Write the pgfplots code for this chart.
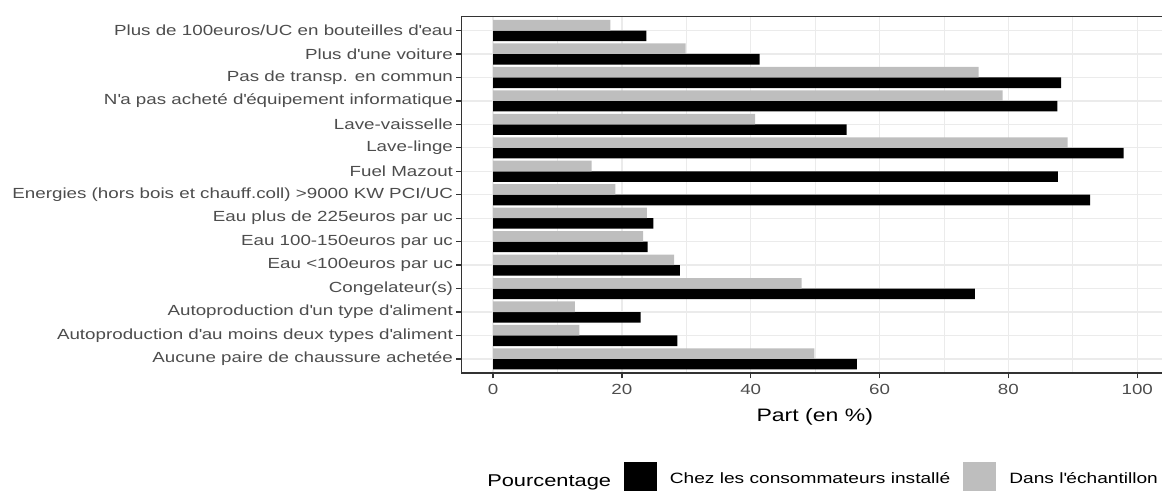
\documentclass[border=0pt]{standalone}
\usepackage{pgfplots}
\pgfplotsset{compat=1.18}
\usepackage{pgfplotstable}
\usepackage{fontspec}
\setmainfont{Liberation Sans}[FakeStretch=1.28]
\definecolor{grey20}{HTML}{333333}
\definecolor{grey30}{HTML}{4D4D4D}
\definecolor{grey92}{HTML}{EBEBEB}
\definecolor{barGrey}{HTML}{BEBEBE}

% y: 1 = bottom category ... 15 = top category
\pgfplotstableread{
y installe echantillon
1  56.5 49.9
2  28.6 13.4
3  22.9 12.7
4  74.8 47.9
5  29.0 28.1
6  24.0 23.3
7  24.9 23.9
8  92.7 19.0
9  87.7 15.3
10 97.9 89.2
11 54.9 40.7
12 87.6 79.1
13 88.2 75.4
14 41.4 29.9
15 23.8 18.2
}\datatable

\pgfplotsset{keyrect/.style={legend image code/.code={\fill[##1] (0pt,-11.375pt) rectangle (24.75pt,13.375pt);}}}

\begin{document}
\begin{tikzpicture}
\begin{axis}[
  at={(346.1pt,87.75pt)}, anchor=south west,
  scale only axis, width=530pt, height=267.4pt,
  xmin=-4.895, xmax=104.8, ymin=0.4, ymax=15.6,
  enlargelimits=false,
  xtick={0,20,...,100}, minor xtick={10,30,50,70,90},
  ytick={1,...,15},
  yticklabels={
    Aucune paire de chaussure achetée,
    Autoproduction d\textquotesingle au moins deux types d\textquotesingle aliment,
    Autoproduction d\textquotesingle un type d\textquotesingle aliment,
    Congelateur(s),
    Eau <100euros par uc,
    Eau 100-150euros par uc,
    Eau plus de 225euros par uc,
    Energies (hors bois et chauff.coll) >9000 KW PCI/UC,
    Fuel Mazout,
    Lave-linge,
    Lave-vaisselle,
    N\textquotesingle a pas acheté d\textquotesingle équipement informatique,
    Pas de transp. en commun,
    Plus d\textquotesingle une voiture,
    Plus de 100euros/UC en bouteilles d\textquotesingle eau},
  xmajorgrids, ymajorgrids, xminorgrids,
  major grid style={grey92, line width=1pt},
  minor grid style={grey92, line width=0.5pt},
  axis line style={grey20, line width=1pt},
  tick pos=left, tick align=outside,
  major tick length=4pt, minor tick length=0pt,
  major tick style={grey20, line width=1pt},
  minor tick style={draw=none},
  ticklabel style={font=\fontsize{11pt}{13pt}\selectfont, text=grey30},
  /pgf/number format/assume math mode=true,
  xticklabel style={anchor=base, inner sep=0pt, yshift=-12.4pt},
  yticklabel style={anchor=east, inner sep=0pt, xshift=-2.2pt},
  xlabel={Part (en \%)},
  xlabel style={font=\fontsize{13.5pt}{16pt}\selectfont, inner sep=0pt,
    at={(axis description cs:0.5,-0.1366)}, anchor=base},
  legend style={at={(axis description cs:0.2299,-0.2945)}, anchor=west,
    draw=none, fill=none, inner sep=0pt, outer sep=0pt,
    font=\fontsize{11.2pt}{13pt}\selectfont,
    nodes={inner sep=0pt},
    /tikz/every odd column/.append style={column sep=9.75pt},
    /tikz/every even column/.append style={column sep=9.75pt}},
  legend columns=-1,
  xbar, bar width=0.45, bar shift=0pt,
]
\addplot[xbar, fill=black, draw=none, bar width=0.45, bar shift=0pt, keyrect]
  table[x=installe, y expr=\thisrow{y}-0.225] {\datatable};
\addlegendentry{Chez les consommateurs installé}
\addplot[xbar, fill=barGrey, draw=none, bar width=0.45, bar shift=0pt, keyrect]
  table[x=echantillon, y expr=\thisrow{y}+0.225] {\datatable};
\addlegendentry{Dans l\textquotesingle échantillon}
\end{axis}
\node[anchor=base west, inner sep=0pt, font=\fontsize{12.8pt}{15pt}\selectfont]
  at (365.25pt,2.5pt) {Pourcentage};
\pgfresetboundingbox
\useasboundingbox (0,0) rectangle (871.5pt,367.5pt);
\end{tikzpicture}
\end{document}
